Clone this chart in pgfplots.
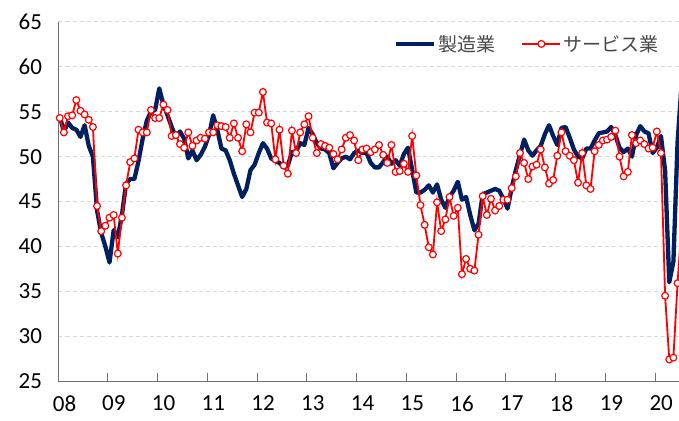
\documentclass[border=0pt]{standalone}
\usepackage{fontspec}
\setmainfont{Carlito}
\newfontfamily\jp{Noto Sans CJK JP}
\usepackage{pgfplots}
\usepackage{pgfplotstable}
\pgfplotsset{compat=1.18}
\definecolor{navy}{RGB}{0,32,96}
\definecolor{gridc}{RGB}{215,215,215}
\definecolor{axc}{RGB}{110,110,110}

\pgfplotstableread{
m mfg svc
0 54.5 54.3
1 52.8 52.7
2 53.8 54.5
3 53.2 54.6
4 53.0 56.3
5 52.2 55.1
6 53.5 54.7
7 51.2 54.1
8 50.0 53.3
9 44.0 44.5
10 41.5 41.7
11 40.0 42.3
12 38.2 43.2
13 41.8 43.5
14 41.0 39.2
15 43.5 43.2
16 47.0 46.8
17 47.5 49.4
18 47.5 49.8
19 49.5 53.0
20 52.0 52.7
21 54.0 52.7
22 55.0 55.2
23 55.2 54.3
24 57.6 54.3
25 55.8 55.8
26 54.6 55.2
27 53.3 52.3
28 52.2 52.4
29 52.8 51.4
30 52.0 51.0
31 49.8 52.7
32 50.7 51.2
33 49.6 51.8
34 50.2 52.1
35 51.1 52.0
36 52.4 52.7
37 54.6 52.7
38 53.0 53.5
39 50.9 53.4
40 50.7 53.3
41 49.6 52.1
42 48.1 53.7
43 46.8 52.1
44 45.5 50.6
45 46.4 53.6
46 48.5 52.7
47 49.1 54.9
48 50.4 54.9
49 51.5 57.2
50 50.9 53.8
51 49.8 53.7
52 49.5 49.7
53 49.3 53.0
54 48.8 49.0
55 49.0 48.1
56 50.5 52.9
57 50.6 50.4
58 51.5 52.7
59 51.3 53.6
60 53.2 54.5
61 52.5 52.1
62 51.5 50.4
63 50.9 51.4
64 50.8 51.2
65 50.4 51.0
66 48.7 50.3
67 49.3 49.7
68 49.8 50.8
69 50.0 52.1
70 49.7 52.4
71 50.4 51.8
72 50.7 49.6
73 50.4 50.8
74 50.4 50.9
75 49.3 50.5
76 48.8 50.8
77 48.8 51.3
78 49.4 50.2
79 50.0 49.3
80 49.2 51.3
81 49.6 48.3
82 49.0 48.4
83 50.3 49.2
84 51.0 48.3
85 48.5 52.3
86 46.0 47.9
87 46.0 44.6
88 46.3 42.4
89 46.8 39.9
90 46.0 39.1
91 46.9 44.9
92 45.2 41.7
93 44.3 43.0
94 45.5 45.5
95 46.2 43.4
96 47.2 44.3
97 45.2 36.9
98 45.5 38.6
99 43.5 37.5
100 41.8 37.3
101 42.5 41.3
102 45.8 45.6
103 46.0 43.5
104 46.2 45.3
105 46.4 44.0
106 46.2 44.5
107 45.3 45.2
108 44.2 45.2
109 46.5 46.5
110 48.5 47.8
111 50.2 50.4
112 51.9 49.3
113 50.7 47.5
114 50.1 48.9
115 50.7 49.1
116 51.2 50.8
117 52.5 48.8
118 53.5 47.0
119 52.3 47.4
120 51.3 50.1
121 53.2 52.7
122 53.3 50.6
123 52.1 50.1
124 50.8 49.6
125 50.0 47.1
126 49.8 50.4
127 50.9 46.8
128 50.9 46.4
129 51.8 50.6
130 52.6 51.3
131 52.7 51.8
132 52.8 51.9
133 53.3 52.2
134 52.4 52.9
135 51.0 50.0
136 50.5 47.8
137 50.9 48.3
138 50.0 52.4
139 52.4 51.5
140 53.4 51.8
141 52.8 51.4
142 52.6 50.9
143 50.4 51.0
144 51.0 52.8
145 52.3 50.4
146 48.4 34.5
147 36.0 27.4
148 38.3 27.6
149 51.6 35.9
150 58.2 42.5
}\data

\begin{document}
\begin{tikzpicture}
\begin{axis}[
  scale only axis, width=620.5pt, height=359pt,
  xmin=-0.3, xmax=149.35, ymin=25, ymax=65,
  axis x line*=bottom, axis y line*=left,
  axis line style={draw=axc, line width=1pt},
  ytick={25,30,35,40,45,50,55,60,65},
  ymajorgrids,
  grid style={draw=gridc, line width=1pt, dash pattern=on 4pt off 3pt},
  ytick style={draw=none},
  xtick={-0.3,11.6,23.6,35.6,47.6,59.6,71.6,83.6,95.6,107.6,119.6,131.6,143.6},
  xticklabels={08,09,10,11,12,13,14,15,16,17,18,19,20},
  xtick align=inside, major tick length=8pt,
  xtick style={draw=axc, line width=1pt},
  tick label style={font=\fontsize{23}{26}\selectfont, text=black},
  /pgf/number format/assume math mode=true,
  xticklabel style={yshift=-11pt, xshift=6pt},
  yticklabel style={xshift=-13pt},
  legend columns=2,
  legend style={draw=none, fill=none, at={(0.975,0.939)}, anchor=east,
    font=\jp\fontsize{19}{22}\selectfont, text=black!72,
    /tikz/every even column/.append style={column sep=24pt}},
  legend cell align=left,
  legend image code/.code={\draw[mark repeat=2, mark phase=2, #1] plot coordinates {(0pt,0pt) (19pt,0pt) (38pt,0pt)};},
]
\addplot[navy, line width=4.3pt, line join=round] table[x=m, y=mfg] {\data};
\addlegendentry{製造業}
\addplot[red, line width=1.8pt, mark=*, mark size=3.4pt,
  mark options={fill=white, draw=red, line width=1.2pt, solid}] table[x=m, y=svc] {\data};
\addlegendentry{サービス業}
\end{axis}
\pgfresetboundingbox
\path ([xshift=-58.5pt,yshift=-39pt]current axis.south west) rectangle ([yshift=22pt]current axis.north east);
\end{tikzpicture}
\end{document}
